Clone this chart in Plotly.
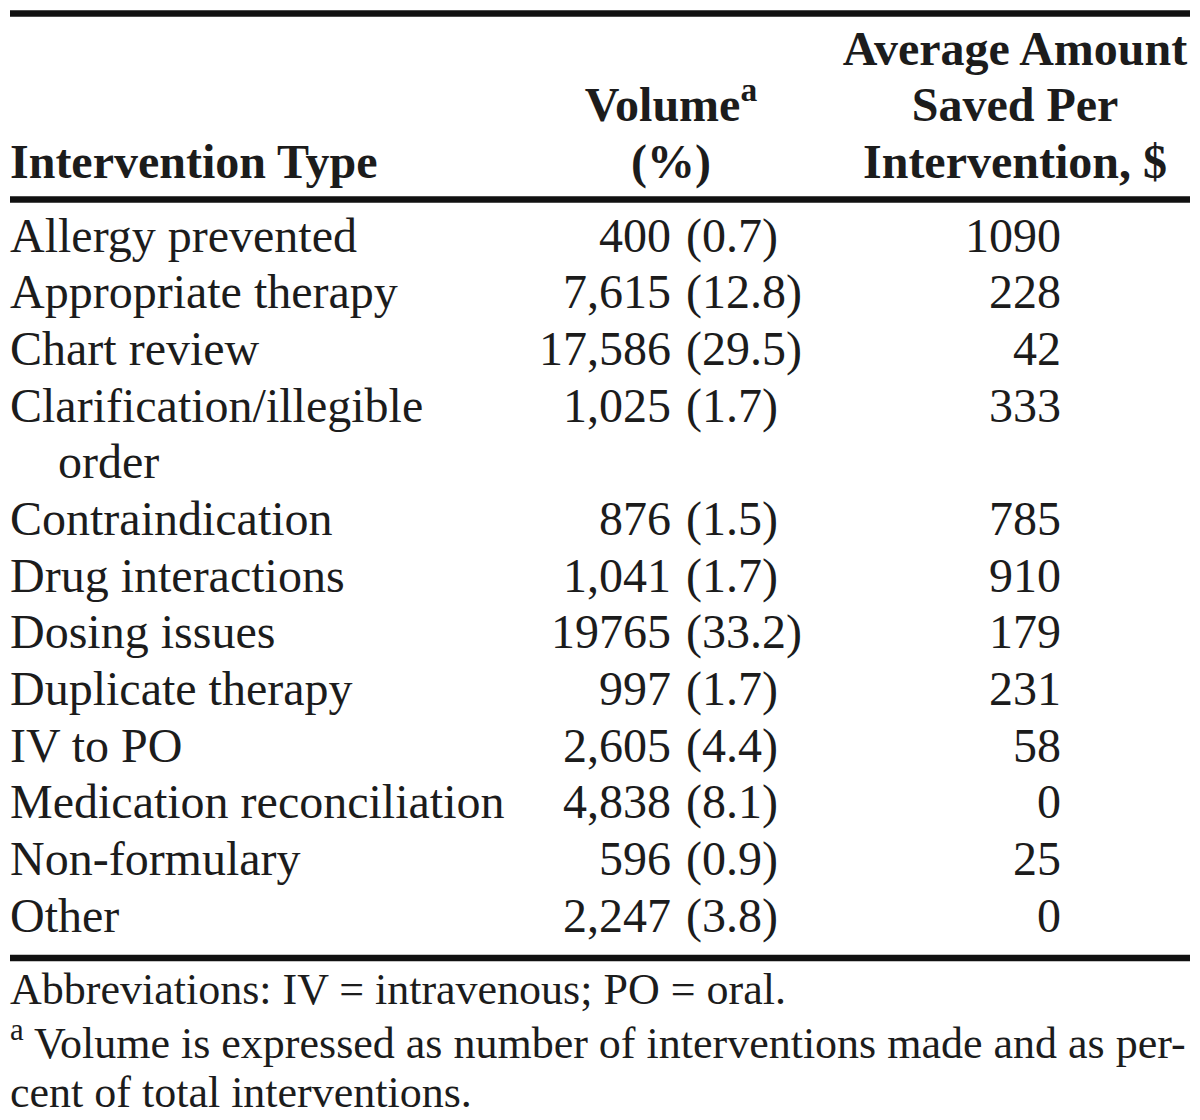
import plotly.graph_objects as go

# ---------------- data ----------------
intervention_types = [
    "Allergy prevented", "Appropriate therapy", "Chart review",
    "Clarification/illegible order", "Contraindication", "Drug interactions",
    "Dosing issues", "Duplicate therapy", "IV to PO",
    "Medication reconciliation", "Non-formulary", "Other",
]
volume_counts = ["400", "7,615", "17,586", "1,025", "876", "1,041",
                 "19765", "997", "2,605", "4,838", "596", "2,247"]
volume_pcts = [0.7, 12.8, 29.5, 1.7, 1.5, 1.7, 33.2, 1.7, 4.4, 8.1, 0.9, 3.8]
avg_saved = [1090, 228, 42, 333, 785, 910, 179, 231, 58, 0, 25, 0]

header_col1 = ["Intervention Type"]
header_col2 = ["Volume<sup>a</sup>", "(%)"]
header_col3 = ["Average Amount", "Saved Per", "Intervention, $"]

footnotes = [
    "Abbreviations: IV = intravenous; PO = oral.",
    "<sup>a</sup> Volume is expressed as number of interventions made and as per-",
    "cent of total interventions.",
]
label_wrap = {"Clarification/illegible order": ["Clarification/illegible", "order"]}

# ---------------- layout constants ----------------
W, H = 1200, 1120
FONT = "Liberation Serif"
INK = "#1c1c1c"
FS = 48
FS_NOTE = 44
MID = 0.25            # plotly: baseline = y + 0.25*fontsize for 'middle' text
PITCH = 56.67
FIRST_BASE = 251.5
HEADER_LAST_BASE = 178
NOTE_BASES = [1004, 1058, 1107]
X_LEFT, X_INDENT = 10, 58
X_VOL_NUM_R, X_VOL_PCT_L, X_VOL_C = 671, 686, 671
X_SAVED_R, X_SAVED_C = 1061, 1015
RULES = [13.5, 199.5, 958]
RULE_W = 6.5


def ypos(base, fs=FS):
    return base - MID * fs


# build body lines
lab_x, lab_y, lab_t = [], [], []
num_y, num_t, pct_t, sav_t = [], [], [], []
line = 0
for name, cnt, pct, sav in zip(intervention_types, volume_counts, volume_pcts, avg_saved):
    parts = label_wrap.get(name, [name])
    base = FIRST_BASE + line * PITCH
    num_y.append(ypos(base))
    num_t.append(cnt)
    pct_t.append(f"({pct:.1f})")
    sav_t.append(str(sav))
    for k, p in enumerate(parts):
        b = FIRST_BASE + (line + k) * PITCH
        lab_x.append(X_LEFT if k == 0 else X_INDENT)
        lab_y.append(ypos(b))
        lab_t.append(p)
    line += len(parts)

fig = go.Figure()


def add_text(x, y, t, pos, fs=FS):
    fig.add_trace(go.Scatter(
        x=x, y=y, text=t, mode="text", textposition=pos,
        textfont=dict(family=FONT, size=fs, color=INK),
        hoverinfo="skip", showlegend=False, cliponaxis=False,
    ))


# body
add_text(lab_x, lab_y, lab_t, "middle right")
add_text([X_VOL_NUM_R] * len(num_t), num_y, num_t, "middle left")
add_text([X_VOL_PCT_L] * len(pct_t), num_y, pct_t, "middle right")
add_text([X_SAVED_R] * len(sav_t), num_y, sav_t, "middle left")


# header
def header_y(lines):
    n = len(lines)
    return [ypos(HEADER_LAST_BASE - (n - 1 - i) * PITCH) for i in range(n)]


add_text([X_LEFT], header_y(header_col1), [f"<b>{t}</b>" for t in header_col1], "middle right")
add_text([X_VOL_C] * len(header_col2), header_y(header_col2), [f"<b>{t}</b>" for t in header_col2], "middle center")
add_text([X_SAVED_C] * len(header_col3), header_y(header_col3), [f"<b>{t}</b>" for t in header_col3], "middle center")

# footnotes
add_text([X_LEFT] * len(footnotes), [ypos(b, FS_NOTE) for b in NOTE_BASES], footnotes, "middle right", FS_NOTE)

# rules
for ry in RULES:
    fig.add_shape(type="line", xref="x", yref="y", x0=10, x1=1190, y0=ry, y1=ry,
                  line=dict(color="#111111", width=RULE_W))

fig.update_layout(
    width=W, height=H, margin=dict(l=0, r=0, t=0, b=0),
    paper_bgcolor="white", plot_bgcolor="white",
    xaxis=dict(range=[0, W], visible=False, fixedrange=True),
    yaxis=dict(range=[H, 0], visible=False, fixedrange=True),
    showlegend=False,
)

fig.write_html(
    "out.html",
    config={"displayModeBar": False},
    post_script="document.body.style.margin='0px';document.body.style.overflow='hidden';",
)
